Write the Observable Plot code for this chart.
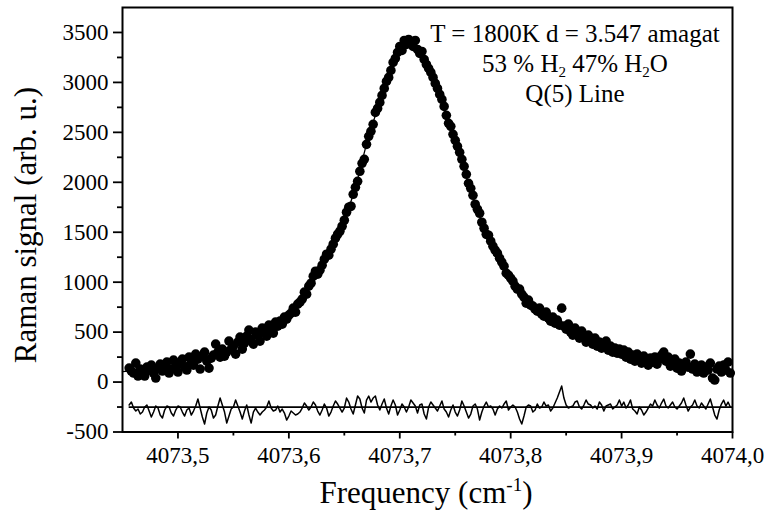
<!DOCTYPE html>
<html><head><meta charset="utf-8">
<script src="https://cdn.jsdelivr.net/npm/d3@7"></script>
<script src="https://cdn.jsdelivr.net/npm/@observablehq/plot@0.6"></script>
<style>body{margin:0;background:#fff}</style>
</head><body><div id="chart"></div>
<script>
// measured signal (dots): first frequency and spacing of the sampling grid
const signalStart = 4073.456, signalStep = 0.002;
const signal = [
140,110,90,190,60,130,100,60,150,120,170,90,40,130,180,110,150,200,90,130,220,160,
100,190,230,150,120,250,200,170,280,230,130,260,300,210,140,240,270,380,300,250,330,260,300,410,330,
360,280,400,450,330,390,460,520,430,380,500,470,410,540,500,460,570,520,490,600,560,610,580,650,630,
670,690,740,700,780,800,830,900,880,960,990,1060,1110,1080,1120,1170,1230,1280,1270,1330,1380,1440,1480,1510,1560,
1620,1700,1750,1760,1880,1950,2010,2110,2190,2230,2380,2460,2510,2580,2700,2740,2800,2870,2940,3010,3050,3120,3200,3240,3300,
3360,3320,3420,3380,3430,3400,3360,3420,3330,3290,3310,3230,3180,3140,3100,3050,2990,2940,2880,2830,2760,2670,2590,2560,2480,
2420,2360,2300,2230,2160,2080,1990,1940,1870,1780,1730,1690,1600,1540,1480,1470,1410,1360,1320,1290,1240,1200,1160,1090,1070,
1040,1010,960,930,930,880,850,790,820,770,760,730,710,740,680,660,700,640,610,650,590,620,570,740,560,
530,580,500,470,540,480,440,510,450,400,470,420,380,440,360,400,340,380,410,320,360,300,340,290,330,
280,320,250,300,230,270,210,280,240,190,260,220,170,240,200,250,180,230,270,300,210,250,160,200,230,
140,190,110,170,200,150,280,130,180,100,140,170,90,150,120,190,40,20,130,160,100,170,120,200,90
];
// residual trace (drawn offset around -250), same grid as the signal
const residual = [
-230,-200,-260,-290,-270,-320,-300,-250,-230,-290,-350,-300,-240,-260,-330,-360,-280,-240,-250,-310,-340,-280,
-240,-250,-300,-340,-280,-260,-330,-290,-240,-170,-260,-350,-420,-310,-250,-280,-360,-330,-240,-160,-230,-300,-410,-340,-270,
-250,-180,-240,-300,-370,-290,-230,-330,-410,-300,-260,-300,-330,-300,-280,-250,-190,-260,-290,-280,-240,-300,-270,-310,-380,
-340,-290,-310,-330,-320,-300,-260,-210,-240,-280,-250,-200,-230,-290,-330,-280,-220,-260,-340,-300,-240,-190,-220,-260,-300,
-260,-160,-200,-270,-320,-230,-140,-170,-260,-310,-180,-140,-200,-160,-140,-230,-280,-220,-170,-260,-320,-240,-180,-230,-330,
-280,-220,-250,-300,-250,-180,-210,-240,-310,-230,-220,-320,-370,-250,-200,-230,-260,-290,-240,-190,-270,-300,-350,-280,-230,
-300,-340,-280,-190,-240,-300,-360,-320,-240,-220,-270,-380,-300,-240,-200,-250,-240,-270,-330,-270,-240,-260,-220,-190,-280,
-250,-230,-250,-300,-370,-420,-340,-250,-230,-240,-300,-280,-220,-260,-250,-200,-240,-230,-290,-260,-210,-160,-100,-40,-160,
-230,-260,-250,-240,-200,-190,-250,-270,-230,-180,-220,-230,-260,-240,-270,-200,-230,-290,-240,-230,-220,-270,-250,-230,-180,
-240,-200,-260,-230,-180,-270,-290,-320,-250,-280,-330,-300,-260,-220,-240,-180,-230,-260,-210,-170,-240,-260,-230,-200,-250,
-270,-240,-210,-160,-230,-290,-250,-230,-180,-240,-260,-210,-240,-270,-220,-170,-250,-330,-370,-280,-220,-180,-240,-200,-250
];
const residualZero = -250;
// fitted profile, read every 0.01 cm-1
const fitStart = 4073.45, fitStep = 0.01;
const fit = [105,115,125,140,155,175,200,235,270,310,355,410,465,520,580,670,800,960,1160,1370,1620,1950,2380,2740,3070,3320,3400,3300,3060,2760,2420,2060,1730,1460,1250,1060,900,770,690,620,555,495,440,395,350,310,280,250,225,200,180,160,145,130,120,110];

const xTicks = [4073.5, 4073.6, 4073.7, 4073.8, 4073.9, 4074.0];
const xMinorTicks = [4073.55, 4073.65, 4073.75, 4073.85, 4073.95];
const yTicks = [-500, 0, 500, 1000, 1500, 2000, 2500, 3000, 3500];
const yMinorTicks = [-250, 250, 750, 1250, 1750, 2250, 2750, 3250];
const xDomain = [4073.45, 4074.0];
const yDomain = [-500, 3750];

const signalData = signal.map((v, i) => ({f: +(signalStart + i * signalStep).toFixed(3), v}));
const residualData = residual.map((v, i) => ({f: +(signalStart + i * signalStep).toFixed(3), v}));
const fitData = fit.map((v, i) => ({f: +(fitStart + i * fitStep).toFixed(3), v}));
const fmt = d => d.toFixed(1).replace(".", ",");
const serif = "Liberation Serif";

const plot = Plot.plot({
  width: 766, height: 515,
  marginLeft: 122, marginRight: 34, marginTop: 7, marginBottom: 83.5,
  x: {domain: xDomain, label: null},
  y: {domain: yDomain, label: null},
  style: {fontFamily: serif, color: "black", background: "white"},
  marks: [
    Plot.axisX(xTicks, {tickSize: 7, tickFormat: () => "", strokeWidth: 1.8, label: null}),
    Plot.axisX(xMinorTicks, {tickSize: 4, tickFormat: () => "", strokeWidth: 1.8, label: null}),
    Plot.axisY(yTicks, {tickSize: 9, tickFormat: () => "", strokeWidth: 1.8, label: null}),
    Plot.axisY(yMinorTicks, {tickSize: 5, tickFormat: () => "", strokeWidth: 1.8, label: null}),
    Plot.text(xTicks, {x: d => d, y: yDomain[0], dy: 24, text: fmt, fontSize: 23, fontFamily: serif, fill: "black"}),
    Plot.text(yTicks, {y: d => d, x: xDomain[0], dx: -14, textAnchor: "end", text: d => String(d), fontSize: 23, fontFamily: serif, fill: "black"}),
    Plot.ruleY([residualZero], {x1: signalStart, x2: xDomain[1], stroke: "black", strokeWidth: 1.8}),
    Plot.line(residualData, {x: "f", y: "v", stroke: "black", strokeWidth: 1.5}),
    Plot.line(fitData, {x: "f", y: "v", stroke: "black", strokeWidth: 1.3, curve: "catmull-rom"}),
    Plot.dot(signalData, {x: "f", y: "v", r: 4.8, fill: "black", stroke: "none"}),
    Plot.frame({stroke: "black", strokeWidth: 2})
  ]
});
document.getElementById("chart").appendChild(plot);

const svg = d3.select(plot);
// axis labels
svg.append("text").attr("transform", "translate(36,225) rotate(-90)")
  .attr("text-anchor", "middle").attr("font-family", serif).attr("font-size", 31).attr("fill", "black")
  .text("Raman signal (arb. u.)");
const xl = svg.append("text").attr("x", 426).attr("y", 503)
  .attr("text-anchor", "middle").attr("font-family", serif).attr("font-size", 31).attr("fill", "black");
xl.append("tspan").text("Frequency (cm");
xl.append("tspan").attr("font-size", 19).attr("dy", -12).text("-1");
xl.append("tspan").attr("dy", 12).text(")");
// annotation
const ann = svg.append("g").attr("font-family", serif).attr("font-size", 25).attr("fill", "black").attr("text-anchor", "middle");
ann.append("text").attr("x", 575).attr("y", 42).text("T = 1800K d = 3.547 amagat");
const l2 = ann.append("text").attr("x", 575).attr("y", 72);
l2.append("tspan").text("53 % H");
l2.append("tspan").attr("font-size", 15).attr("dy", 5).text("2");
l2.append("tspan").attr("dy", -5).text(" 47% H");
l2.append("tspan").attr("font-size", 15).attr("dy", 5).text("2");
l2.append("tspan").attr("dy", -5).text("O");
ann.append("text").attr("x", 575).attr("y", 102).text("Q(5) Line");
</script>
</body></html>
